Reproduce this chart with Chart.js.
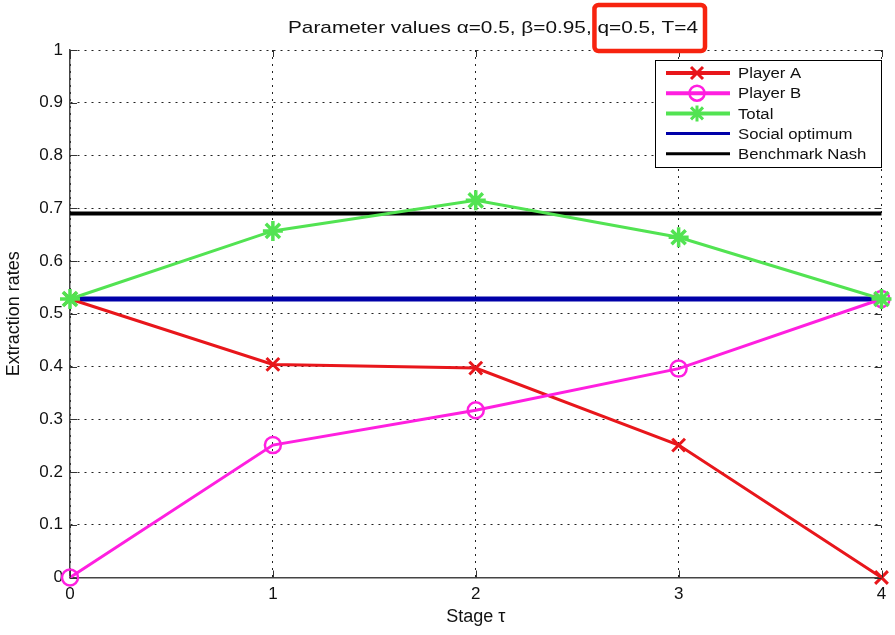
<!DOCTYPE html>
<html>
<head>
<meta charset="utf-8">
<script src="https://cdn.jsdelivr.net/npm/chart.js@4/dist/chart.umd.min.js"></script>
<style>
  html, body { margin: 0; padding: 0; background: #fff; }
  #chart { display: block; }
</style>
</head>
<body>
<canvas id="chart" width="895" height="635"></canvas>
<script>
'use strict';

// values
const stages = ['0', '1', '2', '3', '4'];
const playerA = [0.528, 0.404, 0.397, 0.251, 0];
const playerB = [0, 0.251, 0.317, 0.396, 0.528];
const total = [0.528, 0.657, 0.715, 0.645, 0.528];
const socialOptimum = [0.528, 0.528, 0.528, 0.528, 0.528];
const benchmarkNash = [0.69, 0.69, 0.69, 0.69, 0.69];

const titleText = 'Parameter values \u03b1=0.5, \u03b2=0.95, q=0.5, T=4';
const boxedPart = 'q=0.5, T=4';

const RED = '#e8161b';
const MAGENTA = '#ff1fe0';
const GREEN = '#52e352';
const BLUE = '#0000a8';
const BLACK = '#000000';
const FONT = '"Liberation Sans", Arial, sans-serif';

let canvasElem = document.getElementById('chart');

function drawMarker(ctx, style, x, y, color) {
  ctx.save();
  ctx.strokeStyle = color;
  ctx.beginPath();
  if (style === 'cross') {
    ctx.lineWidth = 3;
    ctx.moveTo(x - 6, y - 6); ctx.lineTo(x + 6, y + 6);
    ctx.moveTo(x + 6, y - 6); ctx.lineTo(x - 6, y + 6);
  } else if (style === 'circle') {
    ctx.lineWidth = 2.5;
    ctx.arc(x, y, 7.5, 0, Math.PI * 2);
  } else if (style === 'star') {
    ctx.lineWidth = 3;
    ctx.moveTo(x, y - 8); ctx.lineTo(x, y + 8);
    ctx.moveTo(x - 8, y); ctx.lineTo(x + 8, y);
    ctx.moveTo(x - 6, y - 6); ctx.lineTo(x + 6, y + 6);
    ctx.moveTo(x + 6, y - 6); ctx.lineTo(x - 6, y + 6);
  }
  ctx.stroke();
  ctx.restore();
}

const legendItems = [
  { label: 'Player A', color: RED, width: 4, marker: 'cross' },
  { label: 'Player B', color: MAGENTA, width: 4, marker: 'circle' },
  { label: 'Total', color: GREEN, width: 4, marker: 'star' },
  { label: 'Social optimum', color: BLUE, width: 3, marker: null },
  { label: 'Benchmark Nash', color: BLACK, width: 3, marker: null }
];

const extras = {
  id: 'extras',
  afterDraw(chart) {
    const ctx = chart.ctx;
    const area = chart.chartArea;
    const xs = chart.scales.x;
    const ys = chart.scales.y;

    // inward tick marks on all four sides
    ctx.save();
    ctx.strokeStyle = '#333';
    ctx.lineWidth = 1;
    ctx.beginPath();
    ys.ticks.forEach((t, i) => {
      const py = Math.round(ys.getPixelForTick(i)) + 0.5;
      ctx.moveTo(area.left, py); ctx.lineTo(area.left + 7, py);
      ctx.moveTo(area.right, py); ctx.lineTo(area.right - 7, py);
    });
    xs.ticks.forEach((t, i) => {
      const px = Math.round(xs.getPixelForTick(i)) + 0.5;
      ctx.moveTo(px, area.bottom); ctx.lineTo(px, area.bottom - 7);
      ctx.moveTo(px, area.top); ctx.lineTo(px, area.top + 7);
    });
    ctx.stroke();
    ctx.restore();

    // title, slightly stretched like the original
    ctx.save();
    ctx.font = '17px ' + FONT;
    ctx.fillStyle = '#111';
    ctx.textBaseline = 'middle';
    const w = ctx.measureText(titleText).width;
    const sx = 410 / w;
    const left = 493 - 205;
    const prefixW = ctx.measureText(titleText.slice(0, titleText.length - boxedPart.length)).width * sx;
    const boxedW = ctx.measureText(boxedPart).width * sx;
    ctx.save();
    ctx.translate(left, 28);
    ctx.scale(sx, 1);
    ctx.fillText(titleText, 0, 0);
    ctx.restore();
    // red highlight box around q and T
    ctx.strokeStyle = '#f7230f';
    ctx.lineWidth = 4.5;
    ctx.beginPath();
    ctx.roundRect(left + prefixW - 3, 5, boxedW + 10, 46, 4);
    ctx.stroke();
    ctx.restore();

    // legend box
    ctx.save();
    const bx = 655.5, by = 60.5, bw = 226, bh = 107;
    ctx.fillStyle = '#fff';
    ctx.fillRect(bx, by, bw, bh);
    ctx.strokeStyle = '#000';
    ctx.lineWidth = 1;
    ctx.strokeRect(bx, by, bw, bh);
    ctx.font = '15.5px ' + FONT;
    ctx.textBaseline = 'middle';
    legendItems.forEach((it, i) => {
      const yy = 73 + i * 20.2;
      ctx.strokeStyle = it.color;
      ctx.lineWidth = it.width;
      ctx.beginPath();
      ctx.moveTo(666, yy); ctx.lineTo(730, yy);
      ctx.stroke();
      if (it.marker) drawMarker(ctx, it.marker, 697, yy, it.color);
      ctx.fillStyle = '#111';
      ctx.save();
      ctx.translate(738, yy + 1);
      ctx.scale(1.08, 1);
      ctx.fillText(it.label, 0, 0);
      ctx.restore();
    });
    ctx.restore();
  }
};

function renderChart() {
  const data = {
    labels: stages,
    datasets: [
      {
        label: 'Player A', data: playerA, order: 3,
        borderColor: RED, borderWidth: 3,
        pointStyle: 'crossRot', pointRadius: 9, pointBorderWidth: 3,
        pointBorderColor: RED, pointBackgroundColor: RED
      },
      {
        label: 'Player B', data: playerB, order: 2,
        borderColor: MAGENTA, borderWidth: 3,
        pointStyle: 'circle', pointRadius: 8, pointBorderWidth: 2.5,
        pointBorderColor: MAGENTA, pointBackgroundColor: 'rgba(0,0,0,0)'
      },
      {
        label: 'Total', data: total, order: 1,
        borderColor: GREEN, borderWidth: 3,
        pointStyle: 'star', pointRadius: 10, pointBorderWidth: 3.5,
        pointBorderColor: GREEN, pointBackgroundColor: GREEN
      },
      {
        label: 'Social optimum', data: socialOptimum, order: 5,
        borderColor: BLUE, borderWidth: 5, pointRadius: 0
      },
      {
        label: 'Benchmark Nash', data: benchmarkNash, order: 4,
        borderColor: BLACK, borderWidth: 4, pointRadius: 0
      }
    ]
  };

  const config = {
    type: 'line',
    data: data,
    plugins: [extras],
    options: {
      responsive: false,
      animation: false,
      events: [],
      datasets: { line: { clip: false, tension: 0, fill: false } },
      layout: { padding: { top: 50, right: 11, left: 0, bottom: 0 } },
      plugins: { legend: { display: false }, title: { display: false }, tooltip: { enabled: false } },
      scales: {
        x: {
          offset: false,
          afterFit(scale) { scale.height = 57.5; },
          grid: { color: '#222', lineWidth: 1, drawTicks: false },
          border: { display: true, color: '#444', width: 1.5, dash: [2, 5] },
          ticks: { color: '#111', padding: 7, font: { family: FONT, size: 17 } },
          title: {
            display: true, text: 'Stage \u03c4', color: '#111',
            font: { family: FONT, size: 18 }, padding: { top: 0, bottom: 7 }
          }
        },
        y: {
          min: 0, max: 1,
          afterFit(scale) { scale.width = 70; },
          grid: { color: '#222', lineWidth: 1, drawTicks: false },
          border: { display: true, color: '#444', width: 1.5, dash: [2, 5] },
          ticks: {
            stepSize: 0.1, color: '#111', padding: 7,
            font: { family: FONT, size: 17 },
            callback: (v) => Number(v.toFixed(1)).toString()
          },
          title: {
            display: true, text: 'Extraction rates', color: '#111',
            font: { family: FONT, size: 18 }, padding: { top: 3, bottom: 0 }
          }
        }
      }
    }
  };

  const myChart = new Chart(canvasElem, config);
}

renderChart();
</script>
</body>
</html>
